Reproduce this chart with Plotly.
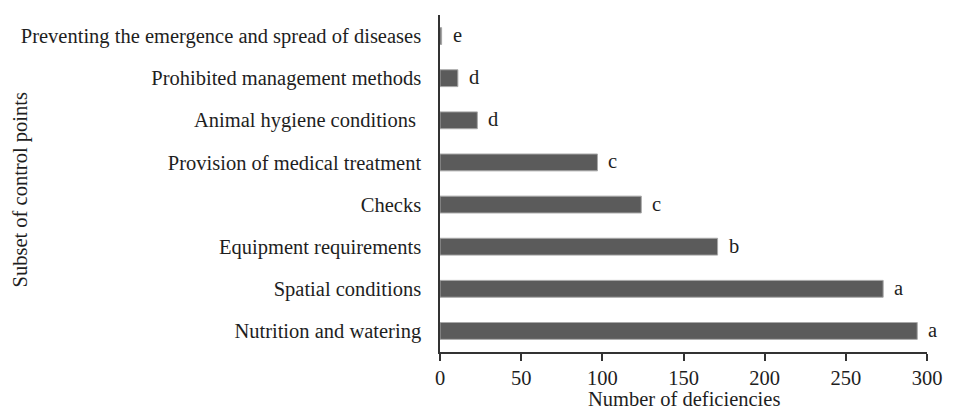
import plotly.graph_objects as go

# Control point subsets, listed bottom-to-top on the chart
categories = [
    "Nutrition and watering",
    "Spatial conditions",
    "Equipment requirements",
    "Checks",
    "Provision of medical treatment",
    "Animal hygiene conditions\u00a0",
    "Prohibited management methods",
    "Preventing the emergence and spread of diseases",
]
deficiencies = [294, 273, 171, 124, 97, 23, 11, 1]
groups = ["a", "a", "b", "c", "c", "d", "d", "e"]
x_ticks = [0, 50, 100, 150, 200, 250, 300]

FONT = "Liberation Serif, Times New Roman, serif"
TEXT = "#1e1e1e"
SIZE = 20.5

fig = go.Figure(
    go.Bar(
        y=categories,
        x=deficiencies,
        orientation="h",
        marker=dict(color="#5b5b5b", line=dict(color="#a8a8a8", width=1)),
        hoverinfo="skip",
    )
)

# Significance letters just past the end of each bar
for cat, val, g in zip(categories, deficiencies, groups):
    fig.add_annotation(
        x=val, y=cat, text=g, xanchor="left", xshift=9, yshift=1,
        showarrow=False, font=dict(family=FONT, size=SIZE, color=TEXT),
    )

# Vertical axis title, placed at the far left edge
fig.add_annotation(
    x=-0.862, y=0.48, xref="paper", yref="paper",
    text="Subset of control points", textangle=-90,
    xanchor="center", yanchor="middle", showarrow=False,
    font=dict(family=FONT, size=SIZE, color=TEXT),
)

# Horizontal axis title, centred under the plot area
fig.add_annotation(
    x=0.5, y=0, xref="paper", yref="paper", yshift=-47,
    text="Number of deficiencies", xanchor="center", yanchor="middle",
    showarrow=False, font=dict(family=FONT, size=SIZE, color=TEXT),
)

fig.update_layout(
    width=956, height=413,
    margin=dict(l=440, r=29, t=15, b=61),
    paper_bgcolor="white", plot_bgcolor="white",
    bargap=0.6,
    showlegend=False,
    font=dict(family=FONT, size=SIZE, color=TEXT),
)
fig.update_xaxes(
    range=[0, 300], tickvals=x_ticks, showgrid=False, zeroline=False,
    showline=True, linecolor="#333", linewidth=1.5,
    ticks="outside", ticklen=7, tickcolor="#333", tickwidth=1.5,
    tickfont=dict(size=SIZE), automargin=False,
)
fig.update_yaxes(
    showgrid=False, zeroline=False,
    showline=True, linecolor="#333", linewidth=1.5,
    ticks="", ticklabelstandoff=13,
    tickfont=dict(size=SIZE), automargin=False,
)

fig.write_html("out.html")
